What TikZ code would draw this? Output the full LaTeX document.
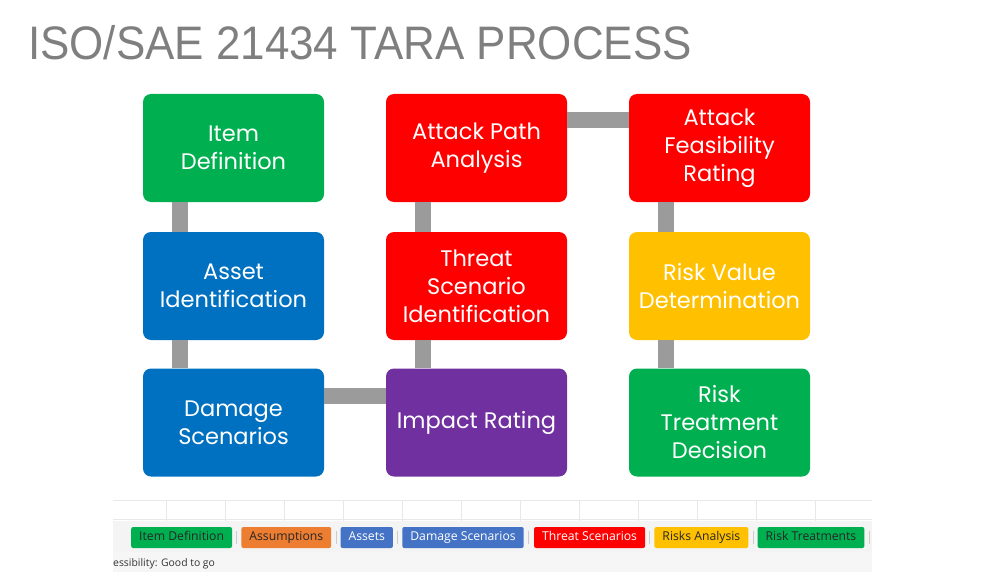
\documentclass[tikz,border=0pt]{standalone}
\usepackage{fontspec}
\usepackage{xcolor}
\usetikzlibrary{positioning}
\newfontfamily\titlefont[FakeStretch=0.935]{Liberation Sans}
\newfontfamily\boxfont{Poppins}
\newfontfamily\tabfont{Open Sans}
\definecolor{tgreen}{HTML}{00B050}
\definecolor{tblue}{HTML}{0070C0}
\definecolor{tred}{HTML}{FF0000}
\definecolor{tpurple}{HTML}{7030A0}
\definecolor{tamber}{HTML}{FFC000}
\definecolor{torange}{HTML}{ED7D31}
\definecolor{tsheet}{HTML}{4472C4}
\definecolor{tgray}{HTML}{9B9B9B}
\definecolor{ttitle}{HTML}{7F7F7F}

\begin{document}
\begin{tikzpicture}[x=1pt,y=-1pt,
  stage/.style={rounded corners=8pt, minimum width=181pt, minimum height=108pt,
    text=white, align=center, font=\boxfont\fontsize{22.5}{28}\selectfont},
  link/.style={tgray, line width=16pt},
  tab/.style={rounded corners=2pt, inner xsep=8pt, inner ysep=0pt, minimum height=21pt,
    text height=8pt, text depth=3pt,
    font=\tabfont\fontsize{12.2}{13}\selectfont, text=black!85},
  tabsep/.style={gray!40, line width=0.8pt}]
\useasboundingbox (0,0) rectangle (981,572);
%% title
\node[anchor=base west, inner sep=0pt, text=ttitle,
  font=\titlefont\fontsize{47}{50}\selectfont] (title) at (28,60) {ISO/SAE 21434 TARA PROCESS};
%% process stages
\node[stage, fill=tgreen] (item) at (233.5,148) {Item\\Definition};
\node[stage, fill=tblue] (asset) at (233.5,286) {Asset\\Identification};
\node[stage, fill=tblue] (damage) at (233.5,422.5) {Damage\\Scenarios};
\node[stage, fill=tpurple] (impact) at (476.5,422.5) {Impact Rating};
\node[stage, fill=tred] (threat) at (476.5,286) {Threat\\Scenario\\Identification};
\node[stage, fill=tred] (path) at (476.5,148) {Attack Path\\Analysis};
\node[stage, fill=tred] (feas) at (719.5,148) {Attack\\Feasibility\\Rating};
\node[stage, fill=tamber] (value) at (719.5,286) {Risk Value\\Determination};
\node[stage, fill=tgreen] (treat) at (719.5,422.5) {Risk\\Treatment\\Decision};
%% connectors
\draw[link] ([xshift=-54pt]item.south) -- ([xshift=-54pt]asset.north);
\draw[link] ([xshift=-54pt]asset.south) -- ([xshift=-54pt]damage.north);
\draw[link] ([yshift=27pt]damage.east) -- ([yshift=27pt]impact.west);
\draw[link] ([xshift=-54pt]impact.north) -- ([xshift=-54pt]threat.south);
\draw[link] ([xshift=-54pt]threat.north) -- ([xshift=-54pt]path.south);
\draw[link] ([yshift=28pt]path.east) -- ([yshift=28pt]feas.west);
\draw[link] ([xshift=-54pt]feas.south) -- ([xshift=-54pt]value.north);
\draw[link] ([xshift=-54pt]value.south) -- ([xshift=-54pt]treat.north);
%% sheet strip
\fill[gray!9] (113,521) rectangle (872,552);
\fill[gray!7] (113,552) rectangle (872,572);
\draw[gray!18, line width=1pt] (113,500) -- (872,500) (113,519) -- (872,519);
\foreach \gx in {166,225,...,816}
  \draw[gray!18, line width=1pt] (\gx,500) -- (\gx,521);
\node[tab, fill=tgreen, anchor=west] (tItem) at (131,537.5) {Item Definition};
\node[tab, fill=torange, right=9pt of tItem] (tAssume) {Assumptions};
\node[tab, fill=tsheet, text=white, right=9pt of tAssume] (tAsset) {Assets};
\node[tab, fill=tsheet, text=white, right=9pt of tAsset] (tDamage) {Damage Scenarios};
\node[tab, fill=tred, text=white, right=10pt of tDamage] (tThreat) {Threat Scenarios};
\node[tab, fill=tamber, right=9pt of tThreat] (tRisk) {Risks Analysis};
\node[tab, fill=tgreen, right=9pt of tRisk] (tTreat) {Risk Treatments};
\foreach \t in {tItem,tAssume,tAsset,tDamage,tThreat,tRisk,tTreat}
  \draw[tabsep] ([xshift=4.5pt,yshift=-4pt]\t.north east) -- ([xshift=4.5pt,yshift=4pt]\t.south east);
\node[anchor=base west, inner sep=0pt, text=black!80,
  font=\tabfont\fontsize{10.4}{12}\selectfont] (status) at (113,566) {essibility: Good to go};
\end{tikzpicture}
\end{document}
